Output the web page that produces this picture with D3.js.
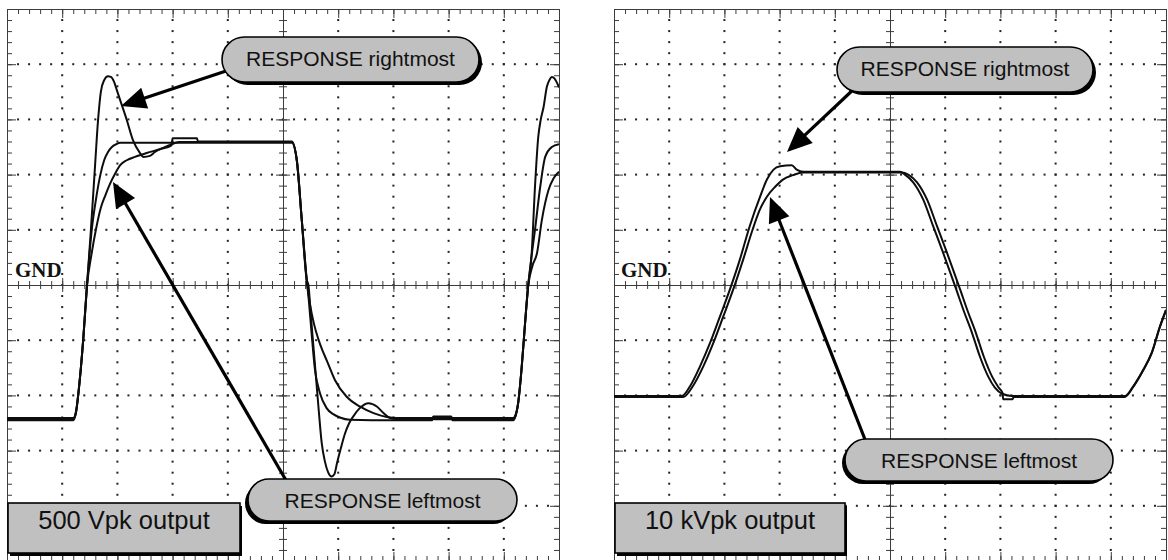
<!DOCTYPE html>
<html>
<head>
<meta charset="utf-8">
<script src="https://cdn.jsdelivr.net/npm/d3@7/dist/d3.min.js"></script>
<style>
  html, body { margin: 0; padding: 0; background: #fff; }
  svg { display: block; }
</style>
</head>
<body>
<svg id="scope" width="1168" height="560"></svg>
<script>
// ---- Screen graticule and labels ----
const xDivisions = 10;           // time divisions across the screen
const yHalfDivisions = 5;        // divisions above / below GND
const minorPerDivision = 5;
const groundLabel = "GND";
const panelTitles = ["500 Vpk output", "10 kVpk output"];
const calloutLabels = ["RESPONSE rightmost", "RESPONSE leftmost"];

// ---- 500 Vpk captures: [time (div), level (div from GND)] ----
const lvOvershoot = [[0,-2.43],[1.20,-2.43],[1.25,-2.31],[1.30,-1.90],[1.38,-1.00],[1.45,0.00],[1.52,1.00],
  [1.59,2.08],[1.65,2.99],[1.70,3.50],[1.76,3.71],[1.83,3.78],[1.88,3.77],[1.94,3.68],[1.99,3.53],[2.05,3.35],
  [2.17,2.99],[2.28,2.63],[2.41,2.39],[2.47,2.32],[2.59,2.34],[2.68,2.41],[2.77,2.46],[2.89,2.51],[3.01,2.56],
  [3.13,2.59],[5.16,2.59],[5.25,2.26],[5.34,1.18],[5.43,0.09],[5.46,0.00],[5.50,-0.50],[5.55,-1.10],[5.60,-1.70],
  [5.65,-2.30],[5.70,-2.85],[5.76,-3.20],[5.82,-3.40],[5.88,-3.47],[5.93,-3.43],[5.98,-3.22],[6.05,-2.95],
  [6.12,-2.70],[6.20,-2.50],[6.28,-2.37],[6.39,-2.23],[6.55,-2.14],[6.70,-2.20],[6.82,-2.32],[6.94,-2.41],
  [7.07,-2.43],[9.17,-2.43],[9.20,-2.40],[9.26,-2.14],[9.32,-1.54],[9.38,-0.76],[9.44,-0.03],[9.505,0.57],
  [9.565,1.78],[9.625,2.69],[9.67,3.00],[9.72,3.22],[9.78,3.59],[9.83,3.72],[9.87,3.77],[9.92,3.74],[9.96,3.67],
  [10.0,3.58]];

const lvMedium = [[0,-2.45],[1.20,-2.45],[1.25,-2.31],[1.30,-1.90],[1.38,-1.00],[1.45,0.00],[1.53,0.95],
  [1.61,1.54],[1.69,1.99],[1.76,2.26],[1.83,2.41],[1.90,2.50],[1.98,2.55],[2.05,2.575],[5.16,2.575],[5.25,2.26],
  [5.34,1.18],[5.43,0.09],[5.47,-0.30],[5.52,-0.90],[5.58,-1.54],[5.67,-1.96],[5.79,-2.23],[5.91,-2.34],
  [6.03,-2.40],[6.21,-2.44],[7.00,-2.45],[7.70,-2.45],[7.72,-2.38],[8.05,-2.38],[8.07,-2.45],[9.17,-2.45],
  [9.20,-2.41],[9.26,-2.14],[9.32,-1.54],[9.38,-0.76],[9.44,-0.03],[9.50,0.50],[9.565,1.00],[9.66,1.78],
  [9.75,2.32],[9.87,2.50],[10.0,2.55]];

const lvDamped = [[0,-2.41],[1.20,-2.41],[1.25,-2.29],[1.30,-1.90],[1.38,-1.00],[1.45,0.00],[1.53,0.55],
  [1.61,1.00],[1.70,1.40],[1.78,1.62],[1.87,1.84],[1.96,2.02],[2.05,2.17],[2.17,2.26],[2.32,2.32],[2.53,2.39],
  [2.77,2.46],[2.98,2.53],[3.00,2.66],[3.44,2.66],[3.46,2.60],[5.16,2.60],[5.25,2.26],[5.34,1.18],[5.43,0.09],
  [5.49,-0.35],[5.56,-0.70],[5.64,-0.98],[5.72,-1.20],[5.79,-1.36],[5.94,-1.72],[6.15,-2.02],[6.39,-2.20],
  [6.64,-2.32],[6.88,-2.39],[7.06,-2.41],[9.17,-2.41],[9.20,-2.38],[9.26,-2.14],[9.32,-1.54],[9.38,-0.76],
  [9.44,-0.03],[9.52,0.35],[9.60,0.57],[9.69,1.18],[9.81,1.72],[9.90,1.93],[10.0,2.05]];

// ---- 10 kVpk captures ----
const hvEarly = [[0,-2.01],[1.23,-2.01],[1.38,-1.83],[1.56,-1.47],[1.74,-1.05],[1.92,-0.57],[2.10,-0.08],
  [2.28,0.46],[2.46,1.07],[2.65,1.61],[2.77,1.91],[2.89,2.09],[3.01,2.15],[3.22,2.17],[3.31,2.09],[3.43,2.05],
  [5.18,2.05],[5.27,2.00],[5.42,1.86],[5.60,1.55],[5.78,1.07],[5.96,0.59],[6.09,0.23],[6.20,-0.08],[6.34,-0.48],
  [6.49,-0.88],[6.63,-1.30],[6.78,-1.66],[6.90,-1.86],[7.03,-1.97],[7.21,-2.01],[9.26,-2.01],[9.41,-1.83],
  [9.59,-1.53],[9.74,-1.23],[9.89,-0.75],[10.0,-0.45]];

const hvLate = [[0,-2.03],[1.25,-2.03],[1.43,-1.83],[1.62,-1.47],[1.80,-1.05],[1.98,-0.57],[2.16,-0.08],
  [2.34,0.46],[2.51,1.00],[2.64,1.36],[2.77,1.60],[2.92,1.78],[3.06,1.91],[3.24,1.99],[3.42,2.04],[5.22,2.04],
  [5.33,2.00],[5.49,1.86],[5.67,1.55],[5.85,1.07],[6.03,0.59],[6.16,0.23],[6.27,-0.08],[6.41,-0.48],[6.56,-0.88],
  [6.70,-1.30],[6.85,-1.66],[6.97,-1.86],[7.04,-1.96],[7.05,-2.07],[7.22,-2.07],[7.24,-2.03],[9.25,-2.03],
  [9.41,-1.84],[9.59,-1.54],[9.74,-1.24],[9.89,-0.76],[10.0,-0.46]];

// ---- Layout (pixels) ----
const panels = [
  {
    left: 7, top: 9, size: 552,
    traces: [lvOvershoot, lvMedium, lvDamped],
    title: panelTitles[0],
    titleBox: { x: 8, y: 503, w: 232, h: 50, baseline: 529 },
    gndX: 15,
    callouts: [
      { text: calloutLabels[0], box: { x: 222, y: 37, w: 257, h: 45 }, baseline: 66, shadow: [3, 3],
        from: [226, 71], tip: [2.065, 3.243] },
      { text: calloutLabels[1], box: { x: 248, y: 479, w: 269, h: 42 }, baseline: 508, shadow: [-3, 3],
        from: [287, 482], tip: [1.920, 1.866] }
    ]
  },
  {
    left: 614, top: 9, size: 552,
    traces: [hvEarly, hvLate],
    title: panelTitles[1],
    titleBox: { x: 615, y: 503, w: 230, h: 50, baseline: 528.5 },
    gndX: 621,
    callouts: [
      { text: calloutLabels[0], box: { x: 837, y: 47, w: 256, h: 45 }, baseline: 76, shadow: [3, 3],
        from: [855, 88], tip: [3.134, 2.409] },
      { text: calloutLabels[1], box: { x: 845, y: 439, w: 268, h: 42 }, baseline: 468, shadow: [-3, 3],
        from: [866, 442], tip: [2.826, 1.594] }
    ]
  }
];

const svg = d3.select("#scope");
const gridColor = "#3c3c3c";
const traceColor = "#0d0d0d";

const minorX = d3.range(0, xDivisions * minorPerDivision + 1).map(i => i / minorPerDivision);
const minorY = d3.range(0, 2 * yHalfDivisions * minorPerDivision + 1).map(i => -yHalfDivisions + i / minorPerDivision);
const majorX = d3.range(0, xDivisions + 1);
const majorY = d3.range(-yHalfDivisions, yHalfDivisions + 1);

function tickAxis(g, axis, values, size, keepDomain) {
  const a = g.append("g").attr("color", gridColor)
    .call(axis.tickValues(values).tickSize(size).tickSizeOuter(0).tickFormat(""));
  if (!keepDomain) a.select(".domain").remove();
  a.selectAll("line, path").attr("stroke-width", 1);
  return a;
}

panels.forEach((p, pi) => {
  const x = d3.scaleLinear().domain([0, xDivisions]).range([p.left, p.left + p.size]);
  const y = d3.scaleLinear().domain([-yHalfDivisions, yHalfDivisions]).range([p.top + p.size, p.top]);
  const g = svg.append("g").attr("class", "panel");

  // graticule dots on the major divisions
  const dots = g.append("g").attr("fill", "#222");
  majorX.filter(d => d > 0 && d < xDivisions && d !== xDivisions / 2).forEach(d => {
    dots.selectAll(null).data(minorY.slice(1, -1)).join("rect")
      .attr("x", x(d) - 1).attr("y", v => y(v) - 1).attr("width", 2).attr("height", 2);
  });
  majorY.filter(d => d > -yHalfDivisions && d < yHalfDivisions && d !== 0).forEach(d => {
    dots.selectAll(null).data(minorX.slice(1, -1)).join("rect")
      .attr("x", t => x(t) - 1).attr("y", y(d) - 1).attr("width", 2).attr("height", 2);
  });

  // outer frame with inward ticks
  const frame = g.append("g");
  tickAxis(frame.append("g").attr("transform", `translate(0,${y(yHalfDivisions)})`), d3.axisBottom(x), minorX, 5, true);
  tickAxis(frame.append("g").attr("transform", `translate(0,${y(yHalfDivisions)})`), d3.axisBottom(x), majorX, 9, false);
  tickAxis(frame.append("g").attr("transform", `translate(0,${y(-yHalfDivisions)})`), d3.axisTop(x), minorX, 5, true);
  tickAxis(frame.append("g").attr("transform", `translate(0,${y(-yHalfDivisions)})`), d3.axisTop(x), majorX, 9, false);
  tickAxis(frame.append("g").attr("transform", `translate(${x(0)},0)`), d3.axisRight(y), minorY, 5, true);
  tickAxis(frame.append("g").attr("transform", `translate(${x(0)},0)`), d3.axisRight(y), majorY, 9, false);
  tickAxis(frame.append("g").attr("transform", `translate(${x(xDivisions)},0)`), d3.axisLeft(y), minorY, 5, true);
  tickAxis(frame.append("g").attr("transform", `translate(${x(xDivisions)},0)`), d3.axisLeft(y), majorY, 9, false);

  // centre cross with minor ticks on both sides
  const centre = g.append("g");
  const cy = y(0), cx = x(xDivisions / 2);
  tickAxis(centre.append("g").attr("transform", `translate(0,${cy})`), d3.axisBottom(x), minorX, 4, true);
  tickAxis(centre.append("g").attr("transform", `translate(0,${cy})`), d3.axisTop(x), minorX, 4, false);
  tickAxis(centre.append("g").attr("transform", `translate(0,${cy})`), d3.axisBottom(x), majorX, 7, false);
  tickAxis(centre.append("g").attr("transform", `translate(0,${cy})`), d3.axisTop(x), majorX, 7, false);
  tickAxis(centre.append("g").attr("transform", `translate(${cx},0)`), d3.axisLeft(y), minorY, 4, true);
  tickAxis(centre.append("g").attr("transform", `translate(${cx},0)`), d3.axisRight(y), minorY, 4, false);
  tickAxis(centre.append("g").attr("transform", `translate(${cx},0)`), d3.axisLeft(y), majorY, 7, false);
  tickAxis(centre.append("g").attr("transform", `translate(${cx},0)`), d3.axisRight(y), majorY, 7, false);

  // ground marker
  g.append("text").attr("x", p.gndX).attr("y", y(0) - 8)
    .attr("font-family", "'Liberation Serif', 'Times New Roman', serif")
    .attr("font-size", 21).attr("font-weight", "bold").attr("fill", "#111").text(groundLabel);

  // captured traces
  const clipId = "clip" + pi;
  svg.append("clipPath").attr("id", clipId).append("rect")
    .attr("x", p.left).attr("y", p.top).attr("width", p.size).attr("height", p.size);
  const line = d3.line().x(d => x(d[0])).y(d => y(d[1])).curve(d3.curveMonotoneX);
  g.append("g").attr("clip-path", `url(#${clipId})`)
    .selectAll("path").data(p.traces).join("path")
    .attr("d", line).attr("fill", "none").attr("stroke", traceColor)
    .attr("stroke-width", 2).attr("stroke-linejoin", "round");

  // callout arrows
  const ann = g.append("g");
  p.callouts.forEach(c => {
    const tx = x(c.tip[0]), ty = y(c.tip[1]);
    const [fx, fy] = c.from;
    const len = Math.hypot(tx - fx, ty - fy);
    const ux = (tx - fx) / len, uy = (ty - fy) / len;
    const headLen = 25, headHalf = 11;
    const bx = tx - ux * headLen, by = ty - uy * headLen;
    ann.append("line").attr("x1", fx).attr("y1", fy)
      .attr("x2", bx + ux * 3).attr("y2", by + uy * 3)
      .attr("stroke", "#000").attr("stroke-width", 3.2);
    ann.append("path")
      .attr("d", `M${tx},${ty}L${bx - uy * headHalf},${by + ux * headHalf}L${bx + uy * headHalf},${by - ux * headHalf}Z`)
      .attr("fill", "#000");
  });

  // callout pills
  p.callouts.forEach(c => {
    const b = c.box;
    ann.append("rect").attr("x", b.x + c.shadow[0]).attr("y", b.y + c.shadow[1])
      .attr("width", b.w).attr("height", b.h).attr("rx", b.h / 2).attr("ry", b.h / 2).attr("fill", "#000");
    ann.append("rect").attr("x", b.x).attr("y", b.y)
      .attr("width", b.w).attr("height", b.h).attr("rx", b.h / 2).attr("ry", b.h / 2)
      .attr("fill", "#c0c0c0").attr("stroke", "#000").attr("stroke-width", 1.6);
    ann.append("text").attr("x", b.x + b.w / 2).attr("y", c.baseline)
      .attr("text-anchor", "middle")
      .attr("font-family", "'Liberation Sans', Arial, sans-serif")
      .attr("font-size", 21).attr("fill", "#111").text(c.text);
  });

  // output level box
  const tb = p.titleBox;
  ann.append("rect").attr("x", tb.x + 2).attr("y", tb.y + 3).attr("width", tb.w).attr("height", tb.h).attr("fill", "#000");
  ann.append("rect").attr("x", tb.x).attr("y", tb.y).attr("width", tb.w).attr("height", tb.h)
    .attr("fill", "#c0c0c0").attr("stroke", "#000").attr("stroke-width", 1.6);
  ann.append("text").attr("x", tb.x + tb.w / 2).attr("y", tb.baseline)
    .attr("text-anchor", "middle")
    .attr("font-family", "'Liberation Sans', Arial, sans-serif")
    .attr("font-size", 25.5).attr("fill", "#111").text(p.title);
});
</script>
</body>
</html>
